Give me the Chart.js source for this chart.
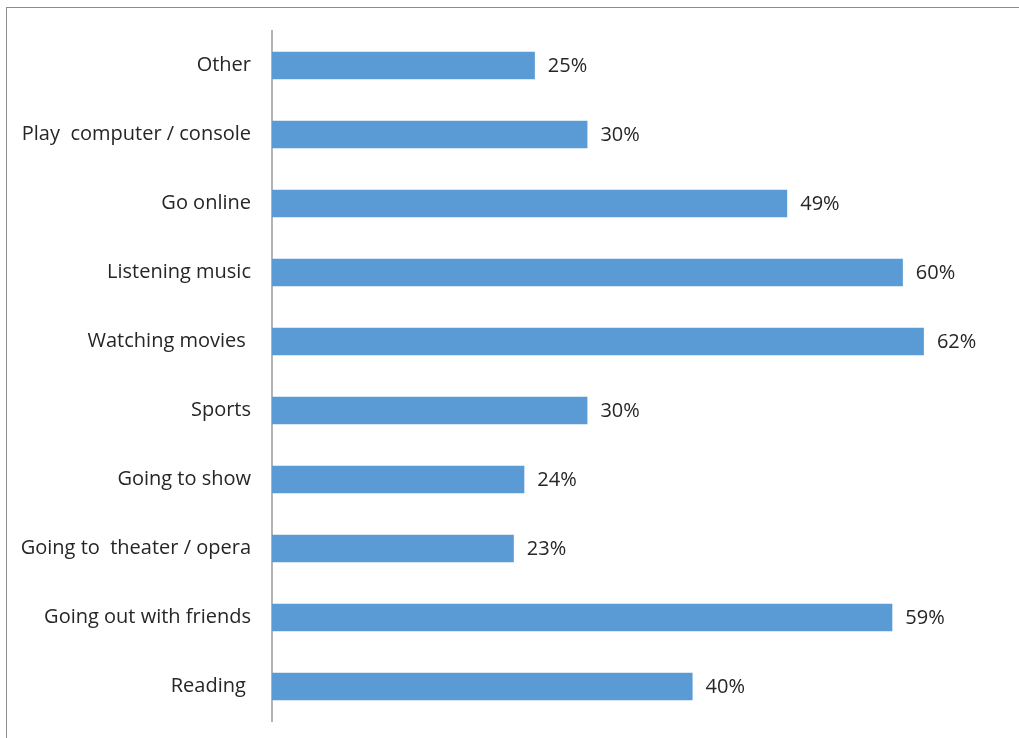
<!DOCTYPE html>
<html>
<head>
<meta charset="utf-8">
<script src="https://cdn.jsdelivr.net/npm/chart.js@4"></script>
<style>
    html, body { margin: 0; padding: 0; background: #ffffff; }
    #wrap { position: relative; width: 1019px; height: 738px; }
    #frame { position: absolute; left: 6px; top: 7px; right: 0; bottom: 0; border-left: 1px solid #8c8c8c; border-top: 1px solid #8c8c8c; }
    canvas { position: absolute; left: 0; top: 0; }
</style>
</head>
<body>
<div id="wrap">
    <div id="frame"></div>
    <canvas id="chart" width="1019" height="738"></canvas>
</div>
<script>
// categories top to bottom
const categories = ['Other', 'Play  computer / console', 'Go online', 'Listening music', 'Watching movies ',
    'Sports', 'Going to show', 'Going to  theater / opera', 'Going out with friends', 'Reading '];
const values = [25, 30, 49, 60, 62, 30, 24, 23, 59, 40];
const axisMin = 0;
const axisMax = 70;

const fontFamily = '"Open Sans", "Liberation Sans", sans-serif';

// value labels at the bar ends
const barLabels = {
    id: 'barLabels',
    afterDatasetsDraw(chart) {
        const ctx = chart.ctx;
        const meta = chart.getDatasetMeta(0);
        ctx.save();
        ctx.font = '20px ' + fontFamily;
        ctx.fillStyle = '#262626';
        ctx.textAlign = 'left';
        ctx.textBaseline = 'middle';
        meta.data.forEach((bar, i) => {
            ctx.fillText(values[i] + '%', bar.x + 13, bar.y + 1);
        });
        ctx.restore();
    }
};

new Chart(document.getElementById('chart'), {
    type: 'bar',
    data: {
        labels: categories,
        datasets: [{
            data: values,
            backgroundColor: '#5b9bd5',
            borderWidth: 0,
            categoryPercentage: 1,
            barPercentage: 0.4
        }]
    },
    options: {
        indexAxis: 'y',
        responsive: false,
        animation: false,
        layout: { padding: { left: 0, right: 11, top: 31, bottom: 17 } },
        plugins: { legend: { display: false }, tooltip: { enabled: false } },
        scales: {
            x: { display: false, min: axisMin, max: axisMax },
            y: {
                grid: { display: false, drawTicks: false },
                border: { display: true, color: '#b4b4b4', width: 2 },
                ticks: { color: '#262626', padding: 21, font: { family: fontFamily, size: 20 } },
                afterFit: s => {
                    s.width = 272;
                    s.paddingTop = 0;
                    s.paddingBottom = 0;
                }
            }
        }
    },
    plugins: [barLabels]
});
</script>
</body>
</html>
